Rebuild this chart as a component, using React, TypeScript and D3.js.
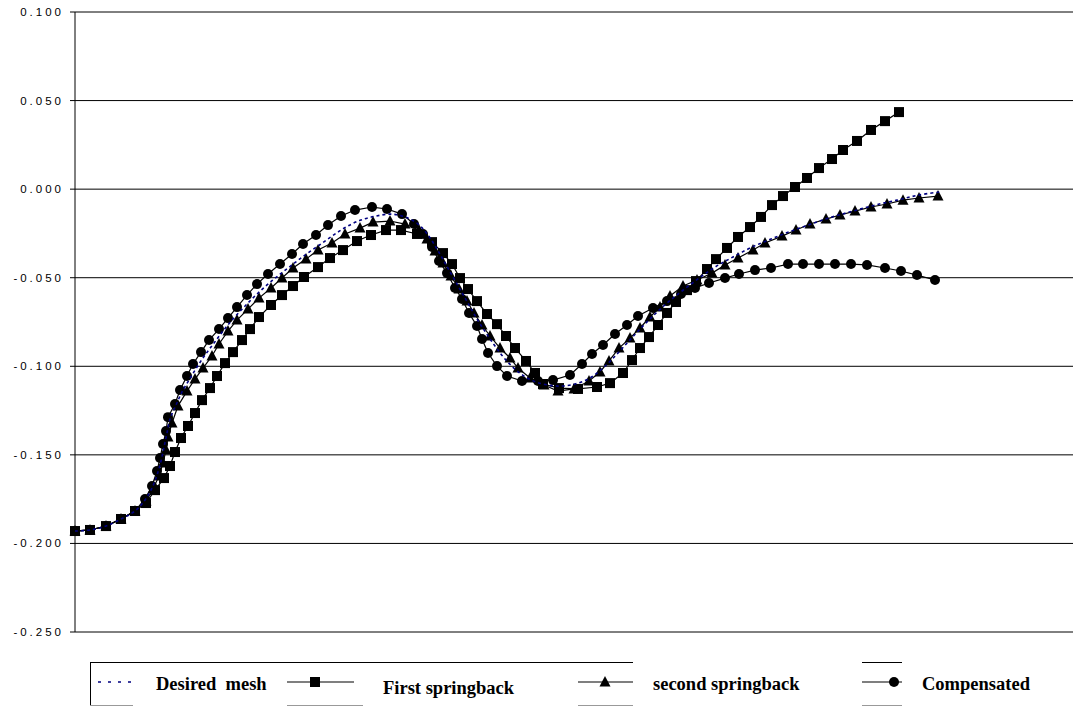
import { scaleLinear, line, curveCatmullRom } from "d3";

// y ticks of the value axis
const Y_TICKS = [0.1, 0.05, 0, -0.05, -0.1, -0.15, -0.2, -0.25];

// x positions are node positions along the part (mm), y the displacement
const desiredX = [0, 1.5, 3.1, 4.6, 6.0, 7.0, 7.7, 8.2, 8.6, 8.9, 9.2, 9.5, 10.1, 10.7, 11.4, 12.2, 13.0, 13.9, 14.8, 15.8, 16.9, 18.0, 19.2, 20.4, 21.7, 23.0, 24.3, 25.7, 27.1, 28.6, 30.1, 31.6, 33.0, 34.3, 35.3, 36.2, 37.0, 37.8, 38.6, 39.4, 40.2, 41.1, 42.0, 43.0, 44.1, 45.4, 46.8, 48.4, 50.0, 51.5, 52.8, 54.1, 55.3, 56.5, 57.8, 59.2, 60.7, 62.3, 64.0, 65.8, 67.7, 69.6, 71.6, 73.6, 75.7, 77.8, 80.0, 82.2, 84.4, 86.5];
const desiredY = [-0.193, -0.1924, -0.1902, -0.1862, -0.1817, -0.1755, -0.1687, -0.1614, -0.1535, -0.1456, -0.1377, -0.1298, -0.1219, -0.1145, -0.1078, -0.1004, -0.0937, -0.0869, -0.0801, -0.0733, -0.0666, -0.0603, -0.0541, -0.0485, -0.0428, -0.0372, -0.0321, -0.0265, -0.0214, -0.0174, -0.0152, -0.0141, -0.0157, -0.0197, -0.0259, -0.0338, -0.0417, -0.0496, -0.0575, -0.0654, -0.0733, -0.0812, -0.0886, -0.0959, -0.1021, -0.1072, -0.11, -0.1112, -0.11, -0.1066, -0.101, -0.0937, -0.0863, -0.079, -0.0716, -0.0643, -0.0575, -0.0507, -0.044, -0.0383, -0.0327, -0.0282, -0.0237, -0.0197, -0.0157, -0.0124, -0.009, -0.0062, -0.0033, -0.0016];

const firstX = [0, 1.5, 3.1, 4.6, 6.0, 7.1, 8.0, 8.9, 9.5, 10.0, 10.6, 11.3, 12.0, 12.7, 13.5, 14.2, 15.0, 15.8, 16.7, 17.5, 18.4, 19.6, 20.7, 21.8, 22.9, 24.3, 25.5, 26.8, 28.2, 29.6, 31.1, 32.6, 34.2, 35.7, 36.8, 37.7, 38.5, 39.3, 40.2, 41.2, 42.2, 43.1, 44.0, 45.1, 46.0, 46.8, 48.4, 50.3, 52.2, 53.5, 54.8, 55.7, 56.5, 57.4, 58.3, 59.2, 60.1, 61.2, 62.1, 63.2, 64.1, 65.2, 66.3, 67.5, 68.6, 69.7, 70.8, 72.0, 73.2, 74.4, 75.7, 76.8, 78.2, 79.6, 81.0, 82.4];
const firstY = [-0.193, -0.1924, -0.1902, -0.1862, -0.1817, -0.1772, -0.1699, -0.1631, -0.1563, -0.1484, -0.1405, -0.1337, -0.1264, -0.1191, -0.1123, -0.1055, -0.0982, -0.092, -0.0852, -0.079, -0.0722, -0.0654, -0.0598, -0.0547, -0.0496, -0.044, -0.0389, -0.0344, -0.0293, -0.0259, -0.0231, -0.0231, -0.0253, -0.0299, -0.0361, -0.0423, -0.0502, -0.0564, -0.0632, -0.0705, -0.0762, -0.0829, -0.0897, -0.097, -0.1038, -0.11, -0.1123, -0.1128, -0.1117, -0.1095, -0.1038, -0.0965, -0.0897, -0.0835, -0.0767, -0.0699, -0.0637, -0.057, -0.0519, -0.0451, -0.0395, -0.0332, -0.027, -0.0214, -0.0157, -0.009, -0.0039, 0.0012, 0.0063, 0.0119, 0.017, 0.0221, 0.0272, 0.0334, 0.0384, 0.0435];

const secondX = [0, 1.5, 3.1, 4.6, 6.0, 7.1, 7.8, 8.4, 8.8, 9.1, 9.3, 9.7, 10.3, 11.2, 12.0, 12.8, 13.7, 14.4, 15.3, 16.2, 17.3, 18.4, 19.6, 20.7, 21.8, 23.1, 24.3, 25.7, 27.0, 28.5, 29.8, 31.5, 33.0, 34.4, 35.2, 36.0, 36.8, 37.6, 38.4, 39.2, 39.9, 40.7, 41.5, 42.5, 43.5, 44.3, 45.5, 46.9, 48.3, 49.9, 51.4, 52.5, 53.4, 54.4, 55.5, 56.5, 57.5, 58.5, 59.5, 60.8, 62.2, 63.7, 65.0, 66.3, 67.8, 69.0, 70.7, 72.1, 73.5, 75.1, 76.5, 78.0, 79.6, 81.2, 82.8, 84.4, 86.3];
const secondY = [-0.193, -0.1924, -0.1902, -0.1862, -0.1817, -0.1761, -0.1693, -0.162, -0.1546, -0.1473, -0.1399, -0.132, -0.1224, -0.114, -0.1072, -0.101, -0.0942, -0.0874, -0.0801, -0.0739, -0.0677, -0.0615, -0.0558, -0.0502, -0.0445, -0.0395, -0.0344, -0.0304, -0.0253, -0.022, -0.0186, -0.018, -0.0197, -0.0231, -0.0282, -0.0349, -0.0417, -0.0491, -0.0564, -0.0632, -0.0699, -0.0767, -0.0829, -0.0897, -0.0953, -0.101, -0.1066, -0.1106, -0.114, -0.1128, -0.1083, -0.1032, -0.097, -0.0897, -0.0841, -0.0784, -0.0722, -0.0666, -0.0603, -0.0547, -0.0513, -0.0474, -0.0428, -0.0389, -0.0344, -0.0304, -0.0265, -0.0231, -0.0197, -0.0169, -0.0146, -0.0124, -0.0101, -0.0084, -0.0062, -0.005, -0.0039];

const compX = [0, 1.5, 3.1, 4.6, 6.0, 7.0, 7.7, 8.2, 8.5, 8.8, 9.1, 9.3, 10.0, 10.5, 11.2, 11.8, 12.6, 13.4, 14.4, 15.3, 16.2, 17.2, 18.2, 19.3, 20.5, 21.7, 22.8, 24.1, 25.3, 26.6, 28.0, 29.7, 31.2, 32.7, 33.9, 34.8, 35.7, 36.4, 37.2, 38.0, 38.7, 39.4, 40.2, 40.7, 41.3, 42.2, 43.2, 44.7, 46.3, 47.8, 49.5, 50.7, 51.7, 52.8, 54.0, 55.2, 56.3, 57.8, 59.2, 60.6, 62.0, 63.4, 65.0, 66.4, 68.0, 69.6, 71.3, 72.8, 74.4, 76.0, 77.6, 79.2, 81.0, 82.6, 84.2, 86.0];
const compY = [-0.193, -0.1924, -0.1902, -0.1862, -0.1817, -0.1749, -0.1676, -0.1591, -0.1518, -0.1439, -0.1366, -0.1287, -0.1213, -0.1134, -0.1055, -0.0987, -0.092, -0.0852, -0.079, -0.0728, -0.0666, -0.0598, -0.0536, -0.0479, -0.0423, -0.0366, -0.031, -0.0259, -0.0203, -0.0152, -0.0118, -0.0101, -0.0112, -0.0141, -0.0197, -0.0253, -0.0327, -0.0406, -0.0474, -0.0558, -0.062, -0.0699, -0.0773, -0.0846, -0.0925, -0.0999, -0.1055, -0.1083, -0.1083, -0.1078, -0.1049, -0.0987, -0.0931, -0.088, -0.0818, -0.0767, -0.0716, -0.0671, -0.0632, -0.0592, -0.0558, -0.053, -0.0502, -0.0479, -0.0457, -0.0445, -0.0423, -0.0423, -0.0423, -0.0423, -0.0423, -0.0428, -0.0445, -0.0462, -0.0485, -0.0513];

type Pt = { x: number; y: number };
const zip = (xs: number[], ys: number[]): Pt[] => xs.map((x, i) => ({ x, y: ys[i] }));

const desired = zip(desiredX, desiredY);
const first = zip(firstX, firstY);
const second = zip(secondX, secondY);
const comp = zip(compX, compY);

const W = 1073;
const H = 706;
const left = 75;
const top = 12;
const bottom = 632;

const navy = "#000080";
const serif = "'Liberation Serif', 'Times New Roman', serif";
const sans = "'Liberation Sans', Arial, sans-serif";

const fmt = (v: number) => (v < -1e-9 ? "-" : "") + Math.abs(v).toFixed(3);

function Square({ cx, cy }: { cx: number; cy: number }) {
  return <rect x={cx - 5} y={cy - 5} width={10} height={10} fill="#000" />;
}
function Tri({ cx, cy }: { cx: number; cy: number }) {
  return <path d={`M${cx},${cy - 6}L${cx + 5.5},${cy + 4.5}L${cx - 5.5},${cy + 4.5}Z`} fill="#000" />;
}
function Dot({ cx, cy }: { cx: number; cy: number }) {
  return <circle cx={cx} cy={cy} r={5} fill="#000" />;
}

export default function App() {
  const x = scaleLinear().domain([0, 100]).range([left, 1075]);
  const y = scaleLinear().domain([-0.25, 0.1]).range([bottom, top]);

  const straight = line<Pt>()
    .x((d) => x(d.x))
    .y((d) => y(d.y));
  const smooth = line<Pt>()
    .x((d) => x(d.x))
    .y((d) => y(d.y))
    .curve(curveCatmullRom);

  const ly = 682;

  return (
    <svg
      width={W}
      height={H}
      viewBox={`0 0 ${W} ${H}`}
      style={{ position: "absolute", left: 0, top: 0, background: "#fff" }}
    >
      {/* grid */}
      {Y_TICKS.map((t) => (
        <g key={t}>
          <line x1={left} x2={W} y1={y(t)} y2={y(t)} stroke="#000" strokeWidth={1} />
          <line x1={left - 5} x2={left} y1={y(t)} y2={y(t)} stroke="#000" strokeWidth={1} />
          <text
            x={64}
            y={y(t)}
            dy="0.35em"
            textAnchor="end"
            fontFamily={sans}
            fontSize={11.5}
            letterSpacing={3}
            fill="#000"
          >
            {fmt(t)}
          </text>
        </g>
      ))}
      <line x1={left} x2={left} y1={top} y2={bottom} stroke="#000" strokeWidth={1} />

      {/* series */}
      <path d={straight(first) ?? ""} fill="none" stroke="#000" strokeWidth={1.2} />
      <path d={straight(second) ?? ""} fill="none" stroke="#000" strokeWidth={1.2} />
      <path d={straight(comp) ?? ""} fill="none" stroke="#000" strokeWidth={1.2} />
      {first.map((d, i) => (
        <Square key={`s${i}`} cx={x(d.x)} cy={y(d.y)} />
      ))}
      {second.map((d, i) => (
        <Tri key={`t${i}`} cx={x(d.x)} cy={y(d.y)} />
      ))}
      {comp.map((d, i) => (
        <Dot key={`c${i}`} cx={x(d.x)} cy={y(d.y)} />
      ))}
      <path
        d={smooth(desired) ?? ""}
        fill="none"
        stroke={navy}
        strokeWidth={1.6}
        strokeDasharray="3 3"
      />

      {/* legend */}
      <g>
        <line x1={90.5} x2={90.5} y1={662} y2={H} stroke="#000" />
        <line x1={90} x2={633} y1={662.5} y2={662.5} stroke="#000" />
        <line x1={862} x2={902} y1={662.5} y2={662.5} stroke="#000" />
        <line x1={90} x2={133} y1={705.5} y2={705.5} stroke="#999" />
        <line x1={287} x2={363} y1={705.5} y2={705.5} stroke="#999" />
        <line x1={578} x2={633} y1={705.5} y2={705.5} stroke="#999" />
        <line x1={862} x2={902} y1={705.5} y2={705.5} stroke="#999" />

        <line x1={98} x2={131} y1={ly} y2={ly} stroke={navy} strokeWidth={1.6} strokeDasharray="3 7" />
        <text x={156} y={690} fontFamily={serif} fontWeight="bold" fontSize={18.5} fill="#000" xmlSpace="preserve">
          Desired  mesh
        </text>

        <line x1={287} x2={354} y1={ly} y2={ly} stroke="#000" strokeWidth={1.2} />
        <Square cx={315} cy={ly} />
        <text x={383} y={694} fontFamily={serif} fontWeight="bold" fontSize={18.5} fill="#000">
          First springback
        </text>

        <line x1={578} x2={633} y1={ly} y2={ly} stroke="#000" strokeWidth={1.2} />
        <Tri cx={605} cy={ly} />
        <text x={653} y={690} fontFamily={serif} fontWeight="bold" fontSize={18.5} fill="#000">
          second springback
        </text>

        <line x1={862} x2={902} y1={ly} y2={ly} stroke="#000" strokeWidth={1.2} />
        <Dot cx={894} cy={ly} />
        <text x={922} y={690} fontFamily={serif} fontWeight="bold" fontSize={18.5} fill="#000">
          Compensated
        </text>
      </g>
    </svg>
  );
}
